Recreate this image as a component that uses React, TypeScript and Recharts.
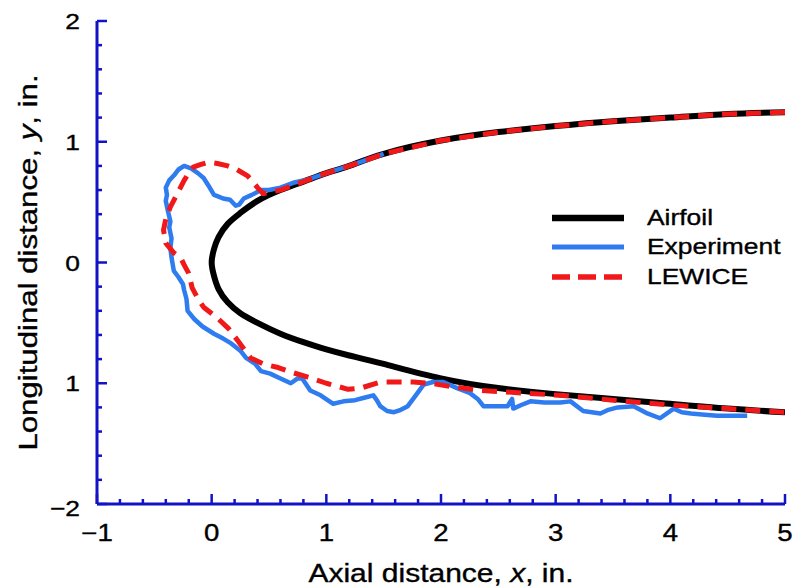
import { Label, Legend, Line, LineChart, XAxis, YAxis } from 'recharts'

const AXIS_BLUE = '#1212c6'
const FONT = '"Liberation Sans", Arial, Helvetica, sans-serif'
const TEXT_SX = 1.2

const X_MAJOR = [-1, 0, 1, 2, 3, 4, 5]
const X_LABELS = ['−1', '0', '1', '2', '3', '4', '5']
const Y_MAJOR = [-2, -1, 0, 1, 2]
const Y_LABELS = ['−2', '1', '0', '1', '2']
const MINOR_STEPS = [0.2, 0.4, 0.6, 0.8]

const airfoil = [
  { x: 5.0, y: 1.245 }, { x: 4.5, y: 1.23 }, { x: 4.0, y: 1.2 }, { x: 3.5, y: 1.17 },
  { x: 3.0, y: 1.13 }, { x: 2.5, y: 1.08 }, { x: 2.0, y: 1.01 }, { x: 1.5, y: 0.9 },
  { x: 1.2, y: 0.8 }, { x: 1.0, y: 0.74 }, { x: 0.8, y: 0.67 }, { x: 0.6, y: 0.6 },
  { x: 0.4, y: 0.51 }, { x: 0.25, y: 0.41 }, { x: 0.14, y: 0.32 }, { x: 0.06, y: 0.21 },
  { x: 0.02, y: 0.11 }, { x: 0.0, y: 0.0 }, { x: 0.02, y: -0.11 }, { x: 0.06, y: -0.22 },
  { x: 0.14, y: -0.33 }, { x: 0.25, y: -0.42 }, { x: 0.4, y: -0.5 }, { x: 0.6, y: -0.59 },
  { x: 0.8, y: -0.66 }, { x: 1.0, y: -0.72 }, { x: 1.2, y: -0.77 }, { x: 1.5, y: -0.84 },
  { x: 2.0, y: -0.96 }, { x: 2.5, y: -1.04 }, { x: 3.0, y: -1.09 }, { x: 3.5, y: -1.13 },
  { x: 4.0, y: -1.17 }, { x: 4.5, y: -1.21 }, { x: 5.0, y: -1.24 },
]

const experiment = [
  { x: 1.5, y: 0.9 }, { x: 1.2, y: 0.8 }, { x: 1.0, y: 0.74 }, { x: 0.85, y: 0.69 },
  { x: 0.71, y: 0.66 }, { x: 0.6, y: 0.62 }, { x: 0.5, y: 0.6 }, { x: 0.43, y: 0.6 },
  { x: 0.35, y: 0.56 }, { x: 0.28, y: 0.53 }, { x: 0.24, y: 0.48 }, { x: 0.21, y: 0.47 },
  { x: 0.16, y: 0.52 }, { x: 0.1, y: 0.53 }, { x: 0.05, y: 0.55 }, { x: 0.02, y: 0.56 },
  { x: -0.03, y: 0.64 }, { x: -0.07, y: 0.7 }, { x: -0.12, y: 0.74 }, { x: -0.18, y: 0.78 },
  { x: -0.24, y: 0.8 }, { x: -0.29, y: 0.77 }, { x: -0.33, y: 0.72 }, { x: -0.37, y: 0.68 },
  { x: -0.4, y: 0.62 }, { x: -0.39, y: 0.56 }, { x: -0.4, y: 0.51 }, { x: -0.38, y: 0.42 },
  { x: -0.36, y: 0.34 }, { x: -0.37, y: 0.29 }, { x: -0.35, y: 0.2 }, { x: -0.36, y: 0.12 },
  { x: -0.35, y: 0.04 }, { x: -0.33, y: -0.07 }, { x: -0.29, y: -0.12 }, { x: -0.25, y: -0.18 },
  { x: -0.24, y: -0.23 }, { x: -0.22, y: -0.3 }, { x: -0.21, y: -0.4 }, { x: -0.15, y: -0.47 },
  { x: -0.08, y: -0.53 }, { x: 0.02, y: -0.59 }, { x: 0.1, y: -0.63 }, { x: 0.17, y: -0.67 },
  { x: 0.25, y: -0.73 }, { x: 0.3, y: -0.79 }, { x: 0.38, y: -0.84 }, { x: 0.43, y: -0.9 },
  { x: 0.51, y: -0.92 }, { x: 0.6, y: -0.96 }, { x: 0.69, y: -1.0 }, { x: 0.75, y: -0.96 },
  { x: 0.79, y: -0.96 }, { x: 0.86, y: -1.06 }, { x: 0.95, y: -1.1 }, { x: 1.06, y: -1.17 },
  { x: 1.15, y: -1.15 }, { x: 1.25, y: -1.14 }, { x: 1.33, y: -1.12 }, { x: 1.41, y: -1.1 },
  { x: 1.44, y: -1.14 }, { x: 1.47, y: -1.19 }, { x: 1.53, y: -1.23 }, { x: 1.59, y: -1.24 },
  { x: 1.65, y: -1.22 }, { x: 1.71, y: -1.19 }, { x: 1.78, y: -1.1 }, { x: 1.85, y: -1.01 },
  { x: 1.93, y: -0.99 }, { x: 2.02, y: -0.99 }, { x: 2.14, y: -1.04 }, { x: 2.25, y: -1.08 },
  { x: 2.32, y: -1.13 }, { x: 2.37, y: -1.19 }, { x: 2.47, y: -1.19 }, { x: 2.58, y: -1.19 },
  { x: 2.62, y: -1.13 }, { x: 2.63, y: -1.21 }, { x: 2.7, y: -1.18 }, { x: 2.78, y: -1.15 },
  { x: 2.9, y: -1.16 }, { x: 3.04, y: -1.16 }, { x: 3.13, y: -1.15 }, { x: 3.24, y: -1.23 },
  { x: 3.39, y: -1.25 }, { x: 3.46, y: -1.22 }, { x: 3.54, y: -1.2 }, { x: 3.68, y: -1.19 },
  { x: 3.8, y: -1.25 }, { x: 3.91, y: -1.29 }, { x: 4.03, y: -1.21 }, { x: 4.1, y: -1.24 },
  { x: 4.18, y: -1.25 }, { x: 4.3, y: -1.26 }, { x: 4.41, y: -1.27 }, { x: 4.55, y: -1.27 },
  { x: 4.67, y: -1.27 },
]

const lewice = [
  { x: 5.0, y: 1.245 }, { x: 4.5, y: 1.23 }, { x: 4.0, y: 1.2 }, { x: 3.5, y: 1.17 },
  { x: 3.0, y: 1.13 }, { x: 2.5, y: 1.08 }, { x: 2.0, y: 1.01 }, { x: 1.5, y: 0.9 },
  { x: 1.2, y: 0.8 }, { x: 1.0, y: 0.74 }, { x: 0.8, y: 0.67 }, { x: 0.6, y: 0.6 },
  { x: 0.45, y: 0.57 }, { x: 0.4, y: 0.62 }, { x: 0.35, y: 0.68 }, { x: 0.31, y: 0.72 },
  { x: 0.22, y: 0.77 }, { x: 0.14, y: 0.8 }, { x: 0.05, y: 0.82 }, { x: -0.03, y: 0.83 },
  { x: -0.1, y: 0.81 }, { x: -0.16, y: 0.79 }, { x: -0.2, y: 0.74 }, { x: -0.24, y: 0.68 },
  { x: -0.3, y: 0.57 }, { x: -0.36, y: 0.46 }, { x: -0.4, y: 0.36 }, { x: -0.42, y: 0.27 },
  { x: -0.4, y: 0.16 }, { x: -0.33, y: 0.08 }, { x: -0.27, y: 0.04 }, { x: -0.24, y: -0.02 },
  { x: -0.2, y: -0.09 }, { x: -0.17, y: -0.21 }, { x: -0.12, y: -0.3 }, { x: -0.07, y: -0.37 },
  { x: 0.05, y: -0.46 }, { x: 0.15, y: -0.55 }, { x: 0.23, y: -0.65 }, { x: 0.3, y: -0.74 },
  { x: 0.34, y: -0.79 }, { x: 0.45, y: -0.84 }, { x: 0.58, y: -0.87 }, { x: 0.7, y: -0.91 },
  { x: 0.84, y: -0.95 }, { x: 1.0, y: -1.0 }, { x: 1.19, y: -1.05 }, { x: 1.3, y: -1.04 },
  { x: 1.47, y: -0.99 }, { x: 1.76, y: -0.99 }, { x: 1.91, y: -1.0 }, { x: 2.1, y: -1.03 },
  { x: 2.35, y: -1.06 }, { x: 2.7, y: -1.08 }, { x: 3.04, y: -1.1 }, { x: 3.5, y: -1.14 },
  { x: 4.0, y: -1.18 }, { x: 4.5, y: -1.21 }, { x: 5.0, y: -1.24 },
]

const SERIES = [
  { name: 'Airfoil', data: airfoil, color: '#000000', width: 6, dash: undefined, curve: 'natural' },
  { name: 'Experiment', data: experiment, color: '#2f7cf0', width: 4.5, dash: undefined, curve: 'linear' },
  { name: 'LEWICE', data: lewice, color: '#f01818', width: 5, dash: '15 9', curve: 'linear' },
]

const withMinor = (major: number[]) =>
  major.flatMap((v, i) =>
    i === major.length - 1 ? [v] : [v, ...MINOR_STEPS.map((s) => Math.round((v + s) * 10) / 10)],
  )

const xTicks = withMinor(X_MAJOR)
const yTicks = withMinor(Y_MAJOR)

function StretchText({ x, y, anchor, size, children }: any) {
  return (
    <text
      transform={`translate(${x},${y}) scale(${TEXT_SX},1)`}
      textAnchor={anchor}
      fontFamily={FONT}
      fontSize={size}
      fill="#000"
      stroke="#000"
      strokeWidth={0.35}
    >
      {children}
    </text>
  )
}

function XTick({ x, y, payload }: any) {
  const i = X_MAJOR.indexOf(payload.value)
  const major = i >= 0
  return (
    <g>
      <line x1={x} x2={x} y1={y} y2={y - (major ? 10 : 5)} stroke={AXIS_BLUE} strokeWidth={2.5} />
      {major && (
        <StretchText x={x} y={y + 37} anchor="middle" size={23}>
          {X_LABELS[i]}
        </StretchText>
      )}
    </g>
  )
}

function YTick({ x, y, payload }: any) {
  const i = Y_MAJOR.indexOf(payload.value)
  const major = i >= 0
  return (
    <g>
      <line x1={x} x2={x + (major ? 10 : 5)} y1={y} y2={y} stroke={AXIS_BLUE} strokeWidth={2.5} />
      {major && (
        <StretchText x={x - 17} y={y + 8 + (payload.value === -2 ? 4 : 0)} anchor="end" size={22}>
          {Y_LABELS[i]}
        </StretchText>
      )}
    </g>
  )
}

function XTitle({ viewBox }: any) {
  const cx = viewBox.x + viewBox.width / 2
  return (
    <StretchText x={cx} y={582} anchor="middle" size={25}>
      Axial distance, <tspan fontStyle="italic">x</tspan>, in.
    </StretchText>
  )
}

function YTitle({ viewBox }: any) {
  const cy = viewBox.y + viewBox.height / 2
  return (
    <text
      transform={`translate(37,${cy}) rotate(-90) scale(${TEXT_SX},1)`}
      textAnchor="middle"
      fontFamily={FONT}
      fontSize={26}
      fill="#000"
      stroke="#000"
      strokeWidth={0.35}
    >
      Longitudinal distance, <tspan fontStyle="italic">y</tspan>, in.
    </text>
  )
}

function LegendBox() {
  return (
    <div style={{ fontFamily: FONT }}>
      {SERIES.map((s) => (
        <div key={s.name} style={{ display: 'flex', alignItems: 'center', height: 29.5 }}>
          <svg width={74} height={10} style={{ marginRight: 22 }}>
            <line
              x1={1}
              x2={73}
              y1={5}
              y2={5}
              stroke={s.color}
              strokeWidth={s.width + 0.5}
              strokeDasharray={s.dash ? '18 8' : undefined}
            />
          </svg>
          <span
            style={{
              fontSize: 22,
              color: '#000',
              WebkitTextStroke: '0.35px #000',
              display: 'inline-block',
              transform: `scaleX(${TEXT_SX})`,
              transformOrigin: 'left center',
            }}
          >
            {s.name}
          </span>
        </div>
      ))}
    </div>
  )
}

export default function App() {
  return (
    <div style={{ position: 'absolute', left: 0, top: 0, width: 793, height: 588, background: '#fff' }}>
      <LineChart width={793} height={588} margin={{ top: 21, right: 8, bottom: 0, left: 0 }}>
        <XAxis
          type="number"
          dataKey="x"
          domain={[-1, 5]}
          ticks={xTicks}
          interval={0}
          height={84}
          tickSize={0}
          tickMargin={0}
          tickLine={false}
          axisLine={{ stroke: AXIS_BLUE, strokeWidth: 3 }}
          tick={<XTick />}
          allowDataOverflow
        >
          <Label content={<XTitle />} />
        </XAxis>
        <YAxis
          type="number"
          domain={[-2, 2]}
          ticks={yTicks}
          interval={0}
          width={97}
          tickSize={0}
          tickMargin={0}
          tickLine={false}
          axisLine={{ stroke: AXIS_BLUE, strokeWidth: 3 }}
          tick={<YTick />}
          allowDataOverflow
        >
          <Label content={<YTitle />} />
        </YAxis>
        {SERIES.map((s) => (
          <Line
            key={s.name}
            name={s.name}
            data={s.data}
            dataKey="y"
            type={s.curve as any}
            stroke={s.color}
            strokeWidth={s.width}
            strokeDasharray={s.dash}
            strokeLinejoin="round"
            dot={false}
            activeDot={false}
            isAnimationActive={false}
          />
        ))}
        <Legend
          layout="vertical"
          align="center"
          verticalAlign="middle"
          content={<LegendBox />}
          wrapperStyle={{ left: 551, top: 203, width: 240 }}
        />
      </LineChart>
    </div>
  )
}
